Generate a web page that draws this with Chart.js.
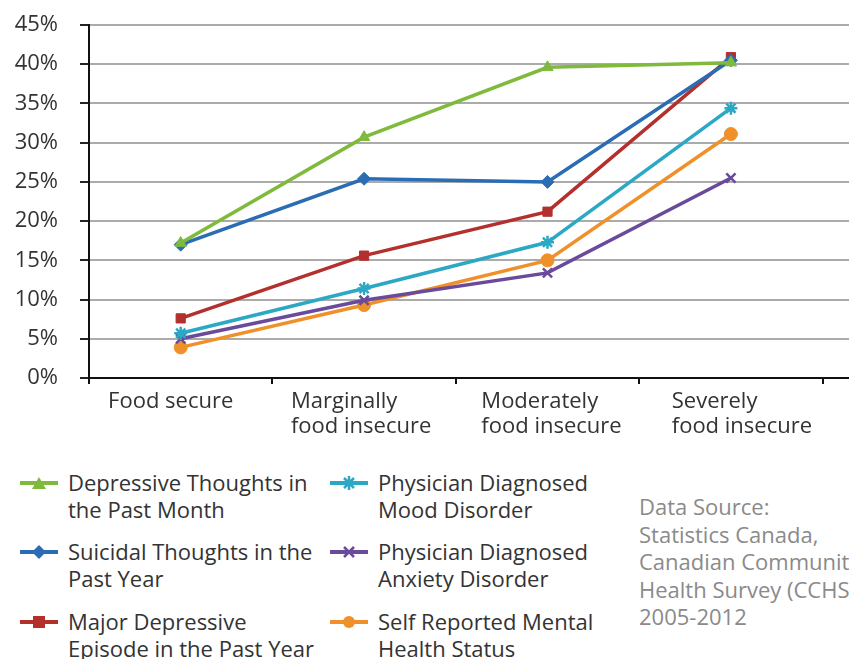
<!DOCTYPE html>
<html>
<head>
<meta charset="utf-8">
<script src="https://cdn.jsdelivr.net/npm/chart.js@4"></script>
<style>
    html, body { margin: 0; padding: 0; background: #fff; }
    body { width: 849px; height: 659px; overflow: hidden; position: relative; font-family: "Open Sans", sans-serif; color: #333; }
    #foodChart { position: absolute; left: 0; top: 0; }
    .legend-item { position: absolute; font-size: 22px; line-height: 27px; white-space: nowrap; }
    .legend-item svg { position: absolute; left: -48px; top: 4px; }
    #source { position: absolute; left: 639px; top: 493px; font-size: 22px; line-height: 27.5px; color: #8a8a8a; white-space: nowrap; }
</style>
</head>
<body>
<canvas id="foodChart" width="1015" height="445"></canvas>
<div id="legend"></div>
<div id="source">Data Source:<br>Statistics Canada,<br>Canadian Community<br>Health Survey (CCHS)<br>2005-2012</div>

<script>
// --- DATA ---
const categories = [['Food secure'], ['Marginally', 'food insecure'], ['Moderately', 'food insecure'], ['Severely', 'food insecure']];
const yTicks = [0, 5, 10, 15, 20, 25, 30, 35, 40, 45];

const depressiveThoughts = [17.2, 30.7, 39.6, 40.2];
const suicidalThoughts = [17.0, 25.4, 25.0, 40.5];
const majorDepressive = [7.6, 15.6, 21.2, 40.9];
const moodDisorder = [5.7, 11.4, 17.3, 34.4];
const anxietyDisorder = [5.0, 9.9, 13.4, 25.5];
const selfReported = [3.9, 9.3, 15.0, 31.1];

const seriesNames = [
    ['Depressive Thoughts in', 'the Past Month'],
    ['Suicidal Thoughts in the', 'Past Year'],
    ['Major Depressive', 'Episode in the Past Year'],
    ['Physician Diagnosed', 'Mood Disorder'],
    ['Physician Diagnosed', 'Anxiety Disorder'],
    ['Self Reported Mental', 'Health Status']
];

// --- STYLE ---
const seriesColors = ['#7fba3c', '#2a6db5', '#b3302d', '#2aa8c4', '#6a4a9a', '#f0902a'];
const pointStyles = ['triangle', 'rectRot', 'rect', 'star', 'crossRot', 'circle'];
const seriesData = [depressiveThoughts, suicidalThoughts, majorDepressive, moodDisorder, anxietyDisorder, selfReported];

// extra empty category so the axis runs off the right edge like the cropped original
const axisLabels = categories.concat([['']]);

const AXIS_X = 89;
const AXIS_BOTTOM = 378;
const CANVAS_H = 445;
const FONT_SIZE = 22;

// draws the category labels left-aligned as a block centred on the category
const categoryLabelPlugin = {
    id: 'categoryLabels',
    afterDraw(chart) {
        const ctx = chart.ctx;
        const xScale = chart.scales.x;
        ctx.save();
        ctx.font = FONT_SIZE + 'px "Open Sans"';
        ctx.fillStyle = '#333';
        ctx.textAlign = 'left';
        ctx.textBaseline = 'middle';
        categories.forEach((lines, i) => {
            // labels in the original drift a little right of the points
            const cx = xScale.getPixelForValue(i) - 10 + i * 7;
            const w = Math.max(...lines.map(l => ctx.measureText(l).width));
            lines.forEach((line, j) => {
                ctx.fillText(line, cx - w / 2, xScale.top + 24 + j * 25);
            });
        });
        ctx.restore();
    }
};

new Chart(document.getElementById('foodChart'), {
    type: 'line',
    data: {
        labels: axisLabels,
        datasets: seriesData.map((d, i) => {
            const thin = pointStyles[i] === 'star' || pointStyles[i] === 'crossRot';
            return {
                label: seriesNames[i].join(' '),
                data: d,
                borderColor: seriesColors[i],
                backgroundColor: seriesColors[i],
                borderWidth: 3.5,
                pointStyle: pointStyles[i],
                pointRadius: thin ? 6.5 : 6.5,
                pointBorderWidth: thin ? 2.5 : 1,
                tension: 0,
                fill: false
            };
        })
    },
    options: {
        responsive: false,
        animation: false,
        layout: { padding: { top: 25, left: 0, right: 0, bottom: 0 } },
        plugins: { legend: { display: false }, tooltip: { enabled: false } },
        scales: {
            x: {
                offset: true,
                grid: { display: true, drawOnChartArea: false, offset: true, tickLength: 6, tickColor: '#111', lineWidth: 2 },
                border: { color: '#111', width: 2 },
                ticks: { display: false },
                afterFit: (scale) => { scale.height = CANVAS_H - AXIS_BOTTOM; }
            },
            y: {
                min: 0,
                max: 45,
                afterBuildTicks: (scale) => { scale.ticks = yTicks.map(v => ({ value: v })); },
                grid: { color: '#ababab', lineWidth: 2, tickLength: 9, tickColor: '#222' },
                border: { color: '#111', width: 2 },
                ticks: {
                    color: '#333',
                    padding: 22,
                    font: { family: 'Open Sans', size: FONT_SIZE },
                    callback: (v) => v + '%'
                },
                afterFit: (scale) => {
                    scale.width = AXIS_X;
                    scale.paddingTop = 0;
                    scale.paddingBottom = 0;
                }
            }
        }
    },
    plugins: [categoryLabelPlugin]
});

// --- LEGEND (html, two columns) ---
function markerSvg(style, color) {
    let m = '';
    if (style === 'triangle') m = `<polygon points="19,4 26,16 12,16" fill="${color}"/>`;
    else if (style === 'rectRot') m = `<polygon points="19,3 26,10 19,17 12,10" fill="${color}"/>`;
    else if (style === 'rect') m = `<rect x="13" y="4" width="12" height="12" fill="${color}"/>`;
    else if (style === 'star') m = `<path d="M14,5 L24,15 M24,5 L14,15 M19,3 L19,17" stroke="${color}" stroke-width="2.5"/>`;
    else if (style === 'crossRot') m = `<path d="M14,5 L24,15 M24,5 L14,15" stroke="${color}" stroke-width="2.5"/>`;
    else m = `<circle cx="19" cy="10" r="6" fill="${color}"/>`;
    return `<svg width="38" height="20"><line x1="0" y1="10" x2="38" y2="10" stroke="${color}" stroke-width="4"/>${m}</svg>`;
}

const legendPos = [
    { left: 68, top: 469 }, { left: 68, top: 538 }, { left: 68, top: 608 },
    { left: 378, top: 469 }, { left: 378, top: 538 }, { left: 378, top: 608 }
];
document.getElementById('legend').innerHTML = seriesNames.map((name, i) => `
    <div class="legend-item" style="left:${legendPos[i].left}px; top:${legendPos[i].top}px;">
        ${markerSvg(pointStyles[i], seriesColors[i])}${name[0]}<br>${name[1]}
    </div>`).join('');
</script>
</body>
</html>
